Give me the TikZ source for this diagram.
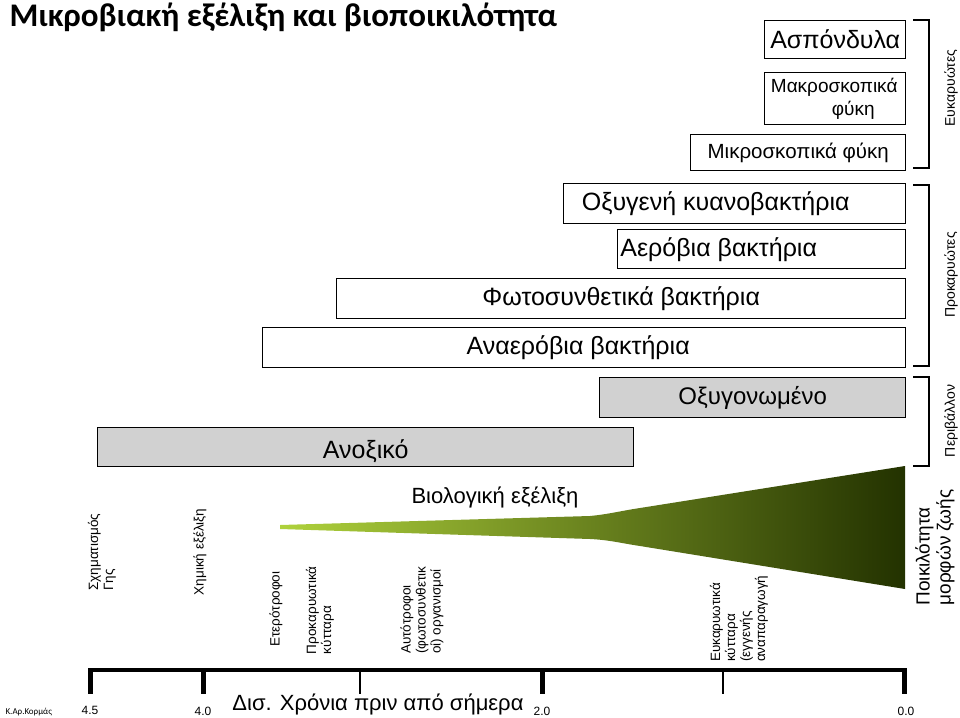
\documentclass[tikz,border=0pt]{standalone}
\usepackage{fontspec}
\setmainfont{Liberation Sans}
\newfontfamily\titlefont{Carlito}
\begin{document}
\begin{tikzpicture}[x=1pt,y=-1pt,
  bx/.style={draw,line width=1.4pt,inner sep=0pt,anchor=north west},
  gbx/.style={bx,fill=black!18},
  brk/.style={line width=1.6pt},
  vlab/.style={rotate=90,font=\fontsize{14}{16}\selectfont,align=left},
  blab/.style={rotate=90,anchor=east,font=\fontsize{13.5}{15}\selectfont,align=left},
  tickl/.style={font=\fontsize{12}{13}\selectfont}]
\useasboundingbox (0,0) rectangle (960,717);
\node[anchor=west,font=\titlefont\bfseries\fontsize{33}{35}\selectfont] (title) at (6,17) {Μικροβιακή εξέλιξη και βιοποικιλότητα};
% boxes
\node[bx,minimum width=141pt,minimum height=38pt] (a1) at (764,20) {};
\node[bx,minimum width=141pt,minimum height=52pt] (a2) at (764,72) {};
\node[bx,minimum width=215pt,minimum height=36pt] (a3) at (690,134) {};
\node[bx,minimum width=342pt,minimum height=40pt] (b1) at (563,183) {};
\node[bx,minimum width=288pt,minimum height=39pt] (b2) at (617,229) {};
\node[bx,minimum width=569pt,minimum height=40pt] (b3) at (336,278) {};
\node[bx,minimum width=643pt,minimum height=40pt] (b4) at (262,327) {};
\node[gbx,minimum width=306pt,minimum height=40pt] (e1) at (599,377) {};
\node[gbx,minimum width=536pt,minimum height=39pt] (e2) at (97,427) {};
\node[font=\fontsize{25}{27}\selectfont] (ta1) at (a1.center) {Ασπόνδυλα};
\node[font=\fontsize{19}{23}\selectfont,align=center] (ta2) at (a2.center) {\hspace*{-2pt}Μακροσκοπικά\\\hspace*{36pt}φύκη};
\node[font=\fontsize{20.5}{22}\selectfont] (ta3) at (a3.center) {Μικροσκοπικά φύκη};
\node[font=\fontsize{25}{27}\selectfont] (tb1) at ([xshift=-19pt]b1.center) {Οξυγενή κυανοβακτήρια};
\node[font=\fontsize{25}{27}\selectfont] (tb2) at ([xshift=-43pt]b2.center) {Αερόβια βακτήρια};
\node[font=\fontsize{25}{27}\selectfont] (tb3) at (b3.center) {Φωτοσυνθετικά βακτήρια};
\node[font=\fontsize{25}{27}\selectfont] (tb4) at ([xshift=-6pt]b4.center) {Αναερόβια βακτήρια};
\node[font=\fontsize{24}{26}\selectfont] (te1) at (e1.center) {Οξυγονωμένο};
\node[font=\fontsize{25}{27}\selectfont] (te2) at ([yshift=-4pt]e2.center) {Ανοξικό};
% brackets
\draw[brk] (913,20) -- (929,20) -- (929,168) -- (913,168);
\draw[brk] (913,185) -- (929,185) -- (929,366) -- (913,366);
\draw[brk] (913,377) -- (929,377) -- (929,466) -- (913,466);
\node[vlab] (l1) at (951,88) {Ευκαρυώτες};
\node[vlab] (l2) at (951,275) {Προκαρυώτες};
\node[vlab] (l3) at (951,421) {Περιβάλλον};
% wedge
\shade[left color={rgb,255:red,175;green,210;blue,60},right color={rgb,255:red,35;green,50;blue,0}]
 (280,525) -- (590,516) .. controls (610,514) and (620,511) .. (640,508) -- (905,466) -- (905,589) -- (640,546) .. controls (620,543) and (610,540) .. (590,539) -- (280,529) -- cycle;
\node[font=\fontsize{22}{24}\selectfont] (bio) at (495,497) {Βιολογική εξέλιξη};
\node[rotate=90,anchor=east,align=left,font=\fontsize{19}{21}\selectfont] (poik) at (935,486) {Ποικιλότητα\\μορφών ζωής};
% rotated labels
\node[blab] (t1) at (102,510) {Σχηματισμός\\Γης};
\node[blab] (t2) at (200,505) {Χημική εξέλιξη};
\node[blab] (t3) at (276,568) {Ετερότροφοι};
\node[blab] (t4) at (320,563) {Προκαρυωτικά\\κύτταρα};
\node[blab] (t5) at (422,563) {Αυτότροφοι\\(φωτοσυνθετικ\\οί) οργανισμοί};
\node[blab] (t6) at (739,572) {Ευκαρυωτικά\\κύτταρα\\(εγγενής\\αναπαραγωγή};
% axis
\coordinate (ax0) at (88,670);
\coordinate (ax1) at (906,670);
\draw[line width=4pt] (ax0) -- (ax1);
\foreach \x/\w in {90/5,203/5,360/2.5,542/5,723/2.5,904/5} \draw[line width=\w pt] (\x,668) -- (\x,694);
\node[tickl] (n1) at (90,710) {4.5};
\node[tickl] (n2) at (203,711) {4.0};
\node[tickl] (n3) at (542,711) {2.0};
\node[tickl] (n4) at (906,711) {0.0};
\node[font=\fontsize{22}{24}\selectfont] (xl) at (378,704) {Δισ. Χρόνια πριν από σήμερα};
\node[anchor=west,font=\titlefont\fontsize{9}{10}\selectfont] (auth) at (2,712) {Κ.Αρ.Κορμάς};
\end{tikzpicture}
\end{document}
